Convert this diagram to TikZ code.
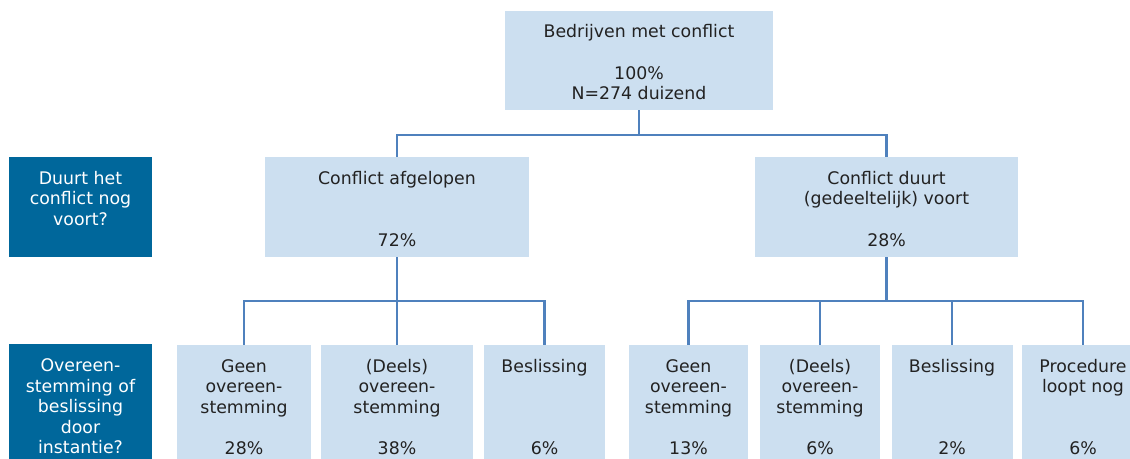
\documentclass[tikz,border=0pt]{standalone}
\usepackage{fontspec}
\setmainfont{DejaVu Sans}
\definecolor{boxfill}{HTML}{CCDFF0}
\definecolor{darkfill}{HTML}{00679B}
\definecolor{linecol}{HTML}{4F81BD}
\definecolor{txt}{HTML}{222222}
\newcommand\topA{\rule{0pt}{17pt}}
\newcommand\topB{\rule{0pt}{15.3pt}}
\begin{document}
\begin{tikzpicture}[x=0.75pt,y=-0.75pt,
  sz/.style 2 args={minimum width=#1*0.75pt, minimum height=#2*0.75pt},
  lbox/.style={fill=boxfill, draw=none, inner sep=0pt, align=center, text=txt,
    font=\fontsize{13}{15.4}\selectfont},
  dbox/.style={fill=darkfill, draw=none, inner sep=0pt, align=center, text=white,
    font=\fontsize{13}{15.4}\selectfont},
  conn/.style={draw=linecol, line width=1.6pt}]
\useasboundingbox (0,0) rectangle (1130,459);

\node[lbox, sz={268}{99}] (top) at (639,60.5)
  {\topA Bedrijven met conflict\\\strut\\\strut 100\%\\\strut N=274 duizend};

\node[dbox, sz={143}{100}] (dq1) at (80.5,207)
  {\topA Duurt het\\\strut conflict nog\\\strut voort?\\\strut};
\node[dbox, sz={143}{123}] (dq2) at (80.5,405.5)
  {\topB Overeen-\\\strut stemming of\\\strut beslissing\\\strut door\\\strut instantie?};

\node[lbox, sz={264}{100}] (afg) at (397,207)
  {\topA Conflict afgelopen\\\strut\\\strut\\\strut 72\%};
\node[lbox, sz={263}{100}] (duurt) at (886.5,207)
  {\topA Conflict duurt\\\strut (gedeeltelijk) voort\\\strut\\\strut 28\%};

\node[lbox, sz={134}{122}] (b1) at (244,406)
  {\topB Geen\\\strut overeen-\\\strut stemming\\\strut\\\strut 28\%};
\node[lbox, sz={152}{122}] (b2) at (397,406)
  {\topB (Deels)\\\strut overeen-\\\strut stemming\\\strut\\\strut 38\%};
\node[lbox, sz={121}{122}] (b3) at (544.5,406)
  {\topB Beslissing\\\strut\\\strut\\\strut\\\strut 6\%};
\node[lbox, sz={119}{122}] (b4) at (688.5,406)
  {\topB Geen\\\strut overeen-\\\strut stemming\\\strut\\\strut 13\%};
\node[lbox, sz={120}{122}] (b5) at (820,406)
  {\topB (Deels)\\\strut overeen-\\\strut stemming\\\strut\\\strut 6\%};
\node[lbox, sz={121}{122}] (b6) at (952,406)
  {\topB Beslissing\\\strut\\\strut\\\strut\\\strut 2\%};
\node[lbox, sz={122}{122}] (b7) at (1083,406)
  {\topB Procedure\\\strut loopt nog\\\strut\\\strut\\\strut 6\%};

\draw[conn] (top.south) -- ++(0,25) coordinate (j0) -| (afg.north);
\draw[conn] (j0) -| (duurt.north);

\draw[conn] (afg.south) -- ++(0,44) coordinate (j1) -| (b1.north);
\draw[conn] (j1) -- (b2.north);
\draw[conn] (j1) -| (b3.north);

\draw[conn] (duurt.south) -- ++(0,44) coordinate (j2) -| (b4.north);
\draw[conn] (j2) -| (b5.north);
\draw[conn] (j2) -| (b6.north);
\draw[conn] (j2) -| (b7.north);
\end{tikzpicture}
\end{document}
